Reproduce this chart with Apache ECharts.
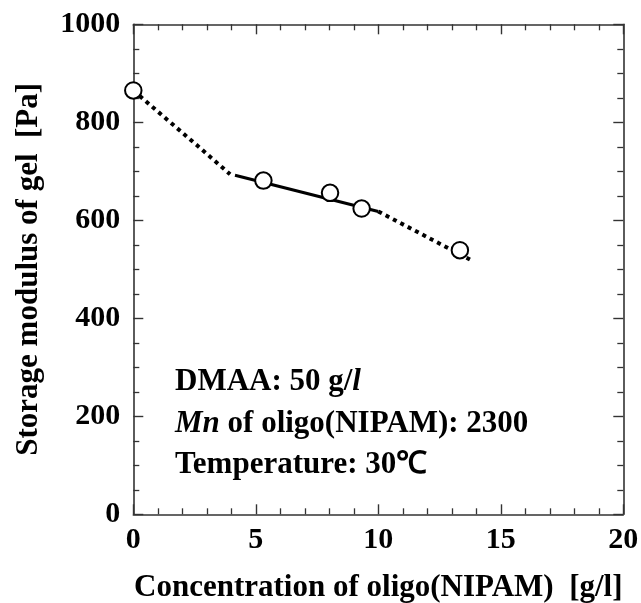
<!DOCTYPE html>
<html>
<head>
<meta charset="utf-8">
<script src="https://cdn.jsdelivr.net/npm/echarts@6/dist/echarts.min.js"></script>
<style>
  html, body { margin: 0; padding: 0; background: #fff; }
  #chart { width: 641px; height: 603px; }
</style>
</head>
<body>
<div id="chart"></div>
<script>
// ---- data ----
const concentration = [0, 5.31, 8.03, 9.32, 13.33];      // g/l
const storageModulus = [865, 681, 656, 624, 539];        // Pa
// guide lines (dotted / solid) drawn through the points
const dottedLeft = [[0, 865], [2.6, 753], [3.95, 694]];
const solidFit = [[4.15, 692], [10.0, 618]];
const dottedRight = [[10.0, 618], [13.74, 520]];
const xTicks = { min: 0, max: 20, interval: 5 };
const yTicks = { min: 0, max: 1000, interval: 200 };
const xTitle = 'Concentration of oligo(NIPAM)  [g/l]';
const yTitle = 'Storage modulus of gel  [Pa]';

const FONT = '"Liberation Serif", "Times New Roman", serif';
const AX = '#333';

function axisBase(showLabel, splitNum) {
  return {
    type: 'value',
    axisLine: { show: true, onZero: false, lineStyle: { color: AX, width: 1.6 } },
    axisTick: { show: true, inside: true, length: 10, lineStyle: { color: AX, width: 1.4 } },
    minorTick: { show: true, splitNumber: splitNum, length: 6, lineStyle: { color: AX, width: 1.3 } },
    splitLine: { show: false },
    minorSplitLine: { show: false },
    axisLabel: { show: showLabel, fontFamily: FONT, fontWeight: 'bold', fontSize: 30, color: '#000',
                 formatter: v => String(v) }
  };
}

const chart = echarts.init(document.getElementById('chart'), null, { renderer: 'canvas' });

const xMain = Object.assign(axisBase(true, 5), {
  position: 'bottom', min: xTicks.min, max: xTicks.max, interval: xTicks.interval,
  name: xTitle, nameLocation: 'middle', nameGap: 58,
  nameTextStyle: { fontFamily: FONT, fontWeight: 'bold', fontSize: 31, color: '#000' }
});
xMain.axisLabel.margin = 11;
const xTop = Object.assign(axisBase(false, 5), {
  position: 'top', min: xTicks.min, max: xTicks.max, interval: xTicks.interval
});
const yMain = Object.assign(axisBase(true, 4), {
  position: 'left', min: yTicks.min, max: yTicks.max, interval: yTicks.interval,
  name: yTitle, nameLocation: 'middle', nameGap: 89,
  nameTextStyle: { fontFamily: FONT, fontWeight: 'bold', fontSize: 31, color: '#000' }
});
yMain.axisLabel.margin = 13;
const yRight = Object.assign(axisBase(false, 4), {
  position: 'right', min: yTicks.min, max: yTicks.max, interval: yTicks.interval
});

const lineCommon = {
  type: 'line', symbol: 'none', silent: true, animation: false,
  xAxisIndex: 0, yAxisIndex: 0
};

const textStyleBase = { fontFamily: FONT, fontWeight: 'bold', fontSize: 31, fill: '#000' };
function annot(top, text) {
  return {
    type: 'text', left: 175, top: top,
    style: Object.assign({}, textStyleBase, {
      text: text,
      rich: {
        b: { fontFamily: FONT, fontWeight: 'bold', fontSize: 31, color: '#000' },
        i: { fontFamily: FONT, fontWeight: 'bold', fontStyle: 'italic', fontSize: 31, color: '#000' }
      }
    })
  };
}

chart.setOption({
  animation: false,
  backgroundColor: '#fff',
  grid: { left: 133.3, right: 17.7, top: 24.3, bottom: 88.7, containLabel: false, outerBoundsMode: 'none' },
  xAxis: [xMain, xTop],
  yAxis: [yMain, yRight],
  graphic: [
    annot(366, '{b|DMAA: 50 g/}{i|l}'),
    annot(408, '{i|Mn}{b| of oligo(NIPAM): 2300}'),
    annot(449, '{b|Temperature: 30℃}')
  ],
  series: [
    Object.assign({}, lineCommon, {
      data: dottedLeft,
      lineStyle: { color: '#000', width: 4, type: [4, 4.3] }
    }),
    Object.assign({}, lineCommon, {
      data: solidFit,
      lineStyle: { color: '#000', width: 3 }
    }),
    Object.assign({}, lineCommon, {
      data: dottedRight,
      lineStyle: { color: '#000', width: 4, type: [4, 4.3] }
    }),
    {
      type: 'scatter', xAxisIndex: 0, yAxisIndex: 0, clip: false, z: 5,
      symbol: 'circle', symbolSize: 16.5,
      itemStyle: { color: '#fff', borderColor: '#000', borderWidth: 2, opacity: 1 },
      data: concentration.map((c, i) => [c, storageModulus[i]])
    }
  ]
});
</script>
</body>
</html>
